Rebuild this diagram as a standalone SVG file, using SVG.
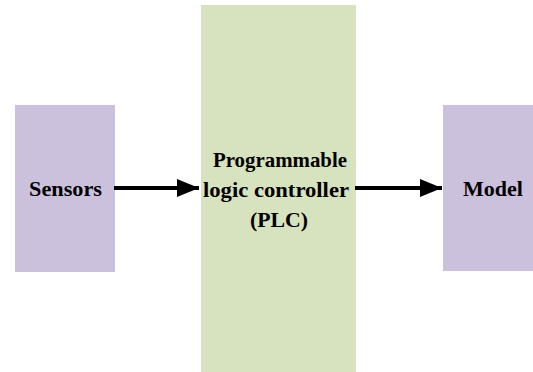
<svg xmlns="http://www.w3.org/2000/svg" width="533" height="372" viewBox="0 0 533 372">
<defs>
<marker id="ah" viewBox="0 0 22 18" refX="22" refY="9" markerWidth="22" markerHeight="18" markerUnits="userSpaceOnUse" orient="auto">
<path d="M0,0 L22,9 L0,18 Z" fill="#000"/>
</marker>
</defs>
<rect width="533" height="372" fill="#fff"/>
<g id="sensors">
<rect fill="#cbc1dd" x="15" y="105" width="100" height="167"/>
<text x="29" y="196" font-size="22" font-weight="bold" font-family="'Liberation Serif', serif" textLength="73" lengthAdjust="spacingAndGlyphs">Sensors</text>
</g>
<g id="plc">
<rect fill="#d7e2bf" x="201" y="5" width="155" height="367"/>
<text x="213" y="167" font-size="22" font-weight="bold" font-family="'Liberation Serif', serif" textLength="134" lengthAdjust="spacingAndGlyphs">Programmable</text>
<text x="203" y="197" font-size="22" font-weight="bold" font-family="'Liberation Serif', serif" textLength="146" lengthAdjust="spacingAndGlyphs">logic controller</text>
<text x="250" y="227" font-size="22" font-weight="bold" font-family="'Liberation Serif', serif" textLength="58" lengthAdjust="spacingAndGlyphs">(PLC)</text>
</g>
<g id="model">
<rect fill="#cbc1dd" x="443" y="105" width="90" height="166"/>
<text x="463" y="196" font-size="22" font-weight="bold" font-family="'Liberation Serif', serif" textLength="60" lengthAdjust="spacingAndGlyphs">Model</text>
</g>
<g id="connectors">
<line stroke="#000" stroke-width="4" x1="114" y1="188" x2="199" y2="188" marker-end="url(#ah)"/>
<line stroke="#000" stroke-width="4" x1="355" y1="188" x2="442" y2="188" marker-end="url(#ah)"/>
</g>
</svg>
